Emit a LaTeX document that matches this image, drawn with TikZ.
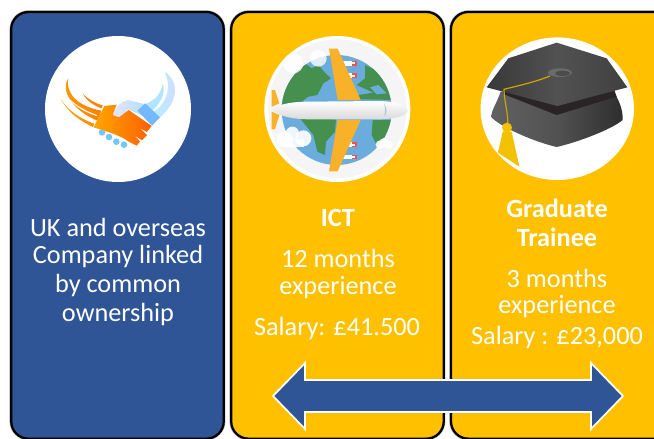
\documentclass[tikz,border=0pt]{standalone}
\usepackage{fontspec}
\setmainfont{Carlito}
\usetikzlibrary{calc}
\definecolor{cardblue}{HTML}{2F5597}
\definecolor{cardgold}{HTML}{FFC000}
\definecolor{wing}{HTML}{F9B12A}
\definecolor{globeblue}{HTML}{6AADDD}
\definecolor{land}{HTML}{45904F}
\definecolor{capband}{HTML}{2A2426}
\definecolor{tassel}{HTML}{F2C200}
\tikzset{
  x=0.75pt,y=-0.75pt,
  card/.style={draw=black,line width=1.7pt,rounded corners=13pt,inner sep=0pt,outer sep=0pt,anchor=north west,
    preaction={draw=black!30,line width=2.6pt}},
  badge/.style={circle,fill=white,inner sep=0pt,outer sep=0pt},
  lbl/.style={text=white,font=\fontsize{19.7}{22}\selectfont,inner sep=0pt,align=center},
  boldlbl/.style={lbl,font=\fontsize{19.7}{22}\selectfont\bfseries},
  zoomA/.style={shift={(0,0)},x=0.25pt,y=-0.25pt},
  zoomB/.style={shift={(230,0)},x=0.25pt,y=-0.25pt},
  zoomC/.style={shift={(440,0)},x=0.25pt,y=-0.25pt},
  cloud/.style={fill=white,opacity=0.9},
}
\begin{document}
\begin{tikzpicture}
\useasboundingbox (0,0) rectangle (654,439);
\clip (0,0) rectangle (654,439);
\fill[white] (0,0) rectangle (654,439);
% cards
\node[card,fill=cardblue,minimum width=159.4pt,minimum height=320pt] (c1) at (11.2,12) {};
\node[card,fill=cardgold,minimum width=159.4pt,minimum height=320pt] (c2) at (231.2,12) {};
\node[card,fill=cardgold,minimum width=190pt,minimum height=320pt] (c3) at (451,12) {};
% badges
\node[badge,minimum size=109.5pt] (b1) at (118,109) {};
\node[badge,minimum size=109.5pt] (b2) at (337.3,109) {};
\path[fill=white] (557.3,108.7) ellipse (76.7 and 71.3);

% handshake
\begin{scope}[zoomA]
  \shade[left color=orange!80!yellow,right color=orange] (205,235) .. controls (178,275) and (225,335) .. (292,362) -- (304,332) .. controls (240,320) and (195,285) .. (205,235) -- cycle;
  \fill[white] (190,275) .. controls (215,315) and (250,335) .. (292,349) -- (290,345) .. controls (250,330) and (215,310) .. (190,275) -- cycle;
  \fill[orange!85!yellow] (183,297) .. controls (205,340) and (245,365) .. (279,381) -- (283,371) .. controls (245,358) and (205,335) .. (183,297) -- cycle;
  \fill[orange] (249,282) .. controls (262,305) and (285,318) .. (305,325) -- (308,316) .. controls (285,310) and (265,298) .. (249,282) -- cycle;
  \shade[left color=blue!22!cyan!30!white,right color=blue!15!white] (493,215) .. controls (540,245) and (535,305) .. (480,352) -- (462,335) .. controls (505,305) and (515,255) .. (493,215) -- cycle;
  \fill[blue!35!cyan!30!white] (488,250) .. controls (485,280) and (465,300) .. (438,312) -- (458,331) .. controls (485,305) and (497,280) .. (488,250) -- cycle;
  \foreach \p in {(306,397),(327,411),(349,425),(372,434)} \fill[blue!40!cyan!55!white] \p circle (10);
  \shade[left color=blue!10!white,right color=blue!40!cyan!35!white] (338,345) .. controls (345,325) and (360,305) .. (385,300) -- (432,312) -- (462,362) -- (385,328) -- (358,352) -- cycle;
  \fill[blue!50!cyan!55!white] (436,310) -- (480,352) -- (456,377) -- (412,332) -- cycle;
  \shade[left color=orange!70!yellow,right color=red!25!orange] (313,318) -- (350,314) -- (338,345) -- (357,352) -- (386,330) -- (455,378) -- (440,396) -- (418,383) -- (441,405) -- (426,421) -- (404,406) -- (420,425) -- (410,437) -- (388,426) .. controls (360,405) and (320,395) .. (281,382) -- cycle;
\end{scope}

% globe and plane
\begin{scope}[zoomB]
  \fill[black!4] (322,326) circle (208);
  \fill[globeblue] (320,330) circle (165);
  \begin{scope}
    \clip (320,330) circle (165);
    \fill[land] (150,315) -- (150,240) -- (225,190) -- (245,205) -- (265,195) -- (285,218) -- (303,235) -- (280,250) -- (262,285) -- (235,290) -- (215,305) -- cycle;
    \fill[land] (210,355) -- (318,358) -- (315,395) -- (288,425) -- (285,465) -- (262,455) -- (250,405) -- cycle;
    \fill[land] (405,195) -- (500,240) -- (500,300) -- (392,298) -- (385,285) -- (430,278) -- (380,255) -- (405,235) -- cycle;
    \fill[land] (428,360) -- (495,360) -- (490,410) -- (440,435) -- (425,405) -- cycle;
    \fill[globeblue] (420,262) -- (445,255) -- (470,280) -- (440,283) -- cycle;
  \end{scope}
  \fill[white,opacity=.8] (190,190) circle (30);
  \fill[white,opacity=.8] (265,175) circle (25);
  \foreach \yy in {190,227,434,471}{
    \fill[white] (340,\yy-7) rectangle (365,\yy+7);
    \fill[red!70!white] (365,\yy-7) rectangle (381,\yy+7);
    \fill[white] (365,\yy-3) rectangle (376,\yy+3);
  }
  \fill[wing] (297,146) -- (323,146) -- (392,300) -- (323,300) -- cycle;
  \fill[wing] (297,514) -- (323,514) -- (392,360) -- (323,360) -- cycle;
  \fill[wing] (125,270) -- (135,270) -- (148,310) -- (125,320) -- cycle;
  \fill[wing] (125,388) -- (135,388) -- (148,345) -- (125,335) -- cycle;
  \shade[top color=white,middle color=white,bottom color=black!15] (125,330) .. controls (150,308) and (200,305) .. (240,305) -- (450,303) .. controls (500,305) and (533,315) .. (533,332) .. controls (533,345) and (500,357) .. (450,358) -- (240,358) .. controls (200,358) and (150,352) .. (125,330) -- cycle;
  \fill[cyan!40!gray!55] (462,310) .. controls (472,325) and (472,340) .. (463,350) .. controls (466,335) and (466,322) .. (462,310) -- cycle;
  % clouds
  \fill[cloud] (165,418) circle (24);
  \fill[cloud] (187,400) circle (20);
  \fill[cloud] (220,415) circle (24);
  \fill[cloud] (165,418) rectangle (222,440);
  \fill[cloud] (450,434) circle (13);
  \fill[cloud] (462,428) circle (14);
  \fill[cloud] (477,434) circle (12);
\end{scope}

% graduation cap
\begin{scope}[zoomC]
  \shade[left color=black!62,right color=black!82,middle color=black!68] (182,275) .. controls (170,310) and (155,330) .. (153,350) .. controls (175,378) and (280,425) .. (350,441) .. controls (420,425) and (520,385) .. (548,360) .. controls (550,330) and (535,295) .. (520,275) -- cycle;
  \fill[capband] (190,282) -- (350,345) -- (530,290) -- (520,262) -- (190,262) -- cycle;
  \shade[left color=black!78,right color=black!75,middle color=black!68] (140,262) -- (205,175) -- (350,128) -- (500,175) -- (562,262) -- (352,318) -- cycle;
  \fill[black!58] (360,218) ellipse (36 and 13);
  \fill[black!70] (368,220) ellipse (22 and 8);
  \draw[draw=tassel!85!black,line width=0.9pt] (330,228) .. controls (280,248) and (230,258) .. (192,268) .. controls (192,300) and (205,340) .. (203,372);
  \fill[tassel] (188,395) -- (215,395) -- (238,500) -- (174,458) -- cycle;
  \fill[tassel] (201,383) circle (15);
\end{scope}

% texts
\node[lbl] (t1) at (118,227) {UK and overseas};
\node[lbl] (t2) at (118,256) {Company linked};
\node[lbl] (t3) at (118,285) {by common};
\node[lbl] (t4) at (118,314) {ownership};
\node[boldlbl] (i1) at (338,218) {ICT};
\node[lbl] (i2) at (338,258) {12 months};
\node[lbl] (i3) at (338,288) {experience};
\node[lbl] (i4) at (337,328) {Salary: £41.500};
\node[boldlbl] (g1) at (557,208) {Graduate};
\node[boldlbl] (g2) at (557,237) {Trainee};
\node[lbl] (g3) at (557,278) {3 months};
\node[lbl] (g4) at (557,307) {experience};
\node[lbl] (g5) at (557,337) {Salary : £23,000};

% double arrow
\fill[cardblue,draw=white,line width=1.3pt,line join=miter]
  (273,396) -- (305,363) -- (305,380) -- (591,380) -- (591,363) -- (623,396) -- (591,429) -- (591,412) -- (305,412) -- (305,429) -- cycle;
\end{tikzpicture}
\end{document}
